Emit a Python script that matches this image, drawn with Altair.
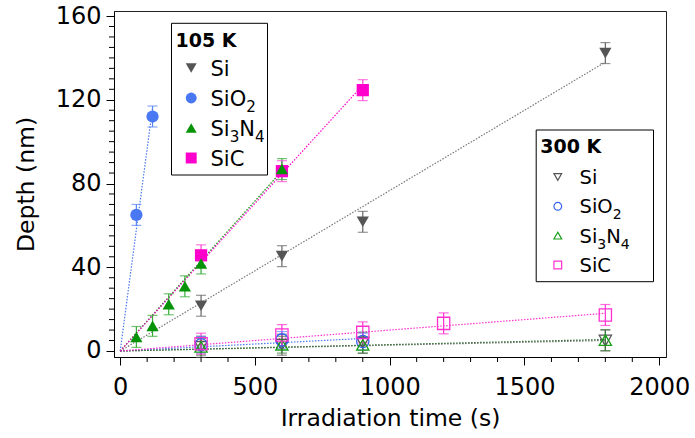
import altair as alt
import pandas as pd

FONT = "DejaVu Sans"

materials = ["Si", "SiO₂", "Si₃N₄", "SiC"]
shapes = ["triangle-down", "circle", "triangle-up", "square"]

# ---- 105 K: irradiation time (s), depth (nm), error (nm)
si_105_t = [300, 600, 900, 1800]
si_105_d = [21.6, 45.3, 61.7, 142.3]
si_105_e = [5, 5, 5, 5]

sio2_105_t = [60, 120]
sio2_105_d = [65, 112]
sio2_105_e = [5, 5]

si3n4_105_t = [60, 120, 180, 240, 300, 600]
si3n4_105_d = [6.7, 12, 22.3, 30.9, 41.8, 86.9]
si3n4_105_e = [5, 5, 5, 5, 5, 5]

sic_105_t = [300, 600, 900]
sic_105_d = [45.7, 85.9, 124.6]
sic_105_e = [5, 5, 5]

# ---- 300 K
si_300_t = [300, 600, 900, 1800]
si_300_d = [2, 3, 4, 5]
si_300_e = [5, 5, 5, 5]

sio2_300_t = [300, 600, 900]
sio2_300_d = [3, 5.3, 4.5]
sio2_300_e = [4, 4, 4]

si3n4_300_t = [300, 600, 900, 1800]
si3n4_300_d = [2, 3, 2.9, 5.2]
si3n4_300_e = [4, 4, 4, 5]

sic_300_t = [300, 600, 900, 1200, 1800]
sic_300_d = [3.5, 7.6, 8.9, 13.2, 17.2]
sic_300_e = [5, 5, 5, 5, 5]

# ---- linear fits through the origin: end point (time, depth)
fit_105_t = [1800, 120, 600, 900]
fit_105_d = [138, 116, 86, 127]
fit_300_t = [1800, 900, 1800, 1800]
fit_300_d = [5, 6, 5.5, 18]

x_ticks = [0, 500, 1000, 1500, 2000]
y_ticks = [0, 40, 80, 120, 160]

# legend labels split into normal text and subscript pieces
label_pieces = {
    "Si": [("Si", False)],
    "SiO₂": [("SiO", False), ("2", True)],
    "Si₃N₄": [("Si", False), ("3", True), ("N", False), ("4", True)],
    "SiC": [("SiC", False)],
}
# DejaVu Sans advance widths (em) for the glyphs used in the labels
ADV = {"S": 0.635, "i": 0.278, "O": 0.787, "N": 0.748, "C": 0.698,
       "2": 0.636, "3": 0.636, "4": 0.636}
SUB_SCALE = 0.72

# ---- styles
marker_col = {
    "105 K": {"Si": "#555555", "SiO₂": "#4a78f2", "Si₃N₄": "#079307", "SiC": "#ff00cc"},
    "300 K": {"Si": "#555555", "SiO₂": "#3563f0", "Si₃N₄": "#17a017", "SiC": "#ff30d0"},
}
err_col = {
    "105 K": {"Si": "#666666", "SiO₂": "#5a86f4", "Si₃N₄": "#35ad35", "SiC": "#ff40d4"},
    "300 K": {"Si": "#666666", "SiO₂": "#5a86f4", "Si₃N₄": "#3a7a3a", "SiC": "#ff30d0"},
}
line_col = {
    "105 K": {"Si": "#777777", "SiO₂": "#4a78f2", "Si₃N₄": "#079307", "SiC": "#ff00cc"},
    "300 K": {"Si": "#777777", "SiO₂": "#4a78f2", "Si₃N₄": "#2d6b2d", "SiC": "#ff30d0"},
}

series = [
    ("105 K", "Si", si_105_t, si_105_d, si_105_e),
    ("105 K", "SiO₂", sio2_105_t, sio2_105_d, sio2_105_e),
    ("105 K", "SiC", sic_105_t, sic_105_d, sic_105_e),
    ("105 K", "Si₃N₄", si3n4_105_t, si3n4_105_d, si3n4_105_e),
    ("300 K", "Si", si_300_t, si_300_d, si_300_e),
    ("300 K", "SiO₂", sio2_300_t, sio2_300_d, sio2_300_e),
    ("300 K", "Si₃N₄", si3n4_300_t, si3n4_300_d, si3n4_300_e),
    ("300 K", "SiC", sic_300_t, sic_300_d, sic_300_e),
]

rows = []
for temp, mat, ts, ds, es in series:
    for t, d, e in zip(ts, ds, es):
        rows.append(dict(temp=temp, material=mat, t=t, d=d, lo=d - e, hi=d + e,
                         mcol=marker_col[temp][mat], ecol=err_col[temp][mat]))
pts = pd.DataFrame(rows)

fit_rows = []
for temp, ts, ds in [("300 K", fit_300_t, fit_300_d), ("105 K", fit_105_t, fit_105_d)]:
    for mat, te, de in zip(materials, ts, ds):
        key = temp + mat
        fit_rows.append(dict(series=key, t=0, d=0, lcol=line_col[temp][mat]))
        fit_rows.append(dict(series=key, t=te, d=de, lcol=line_col[temp][mat]))
fits = pd.DataFrame(fit_rows)

x_minor = pd.DataFrame({"v": [v for v in range(0, 2001, 100) if v % 500]})
y_minor = pd.DataFrame({"v": [v for v in range(0, 161, 5) if v % 40]})

W, H = 552, 346

x_scale = alt.Scale(domain=[-23, 2025], nice=False, zero=False)
y_scale = alt.Scale(domain=[-2.87, 162.4], nice=False, zero=False)
shape_scale = alt.Scale(domain=materials, range=shapes)

x_axis = alt.Axis(values=x_ticks, title="Irradiation time (s)", grid=False,
                  tickSize=8, labelPadding=10, titlePadding=7, format="d",
                  labelFontSize=24, titleFontSize=23.5)
y_axis = alt.Axis(values=y_ticks, title="Depth (nm)", grid=False,
                  tickSize=8, labelPadding=5, titlePadding=17,
                  labelFontSize=24, titleFontSize=23.5)

X = alt.X("t:Q", scale=x_scale, axis=x_axis)
Y = alt.Y("d:Q", scale=y_scale, axis=y_axis)

lines = alt.Chart(fits).mark_line(strokeDash=[1.5, 1.5], strokeWidth=1.2).encode(
    x=X, y=Y, detail="series:N", color=alt.Color("lcol:N", scale=None)
)

err_rule = alt.Chart(pts).mark_rule(strokeWidth=1.2).encode(
    x="t:Q", y="lo:Q", y2="hi:Q", color=alt.Color("ecol:N", scale=None)
)
cap_lo = alt.Chart(pts).mark_tick(orient="horizontal", size=10, thickness=1.2).encode(
    x="t:Q", y="lo:Q", color=alt.Color("ecol:N", scale=None)
)
cap_hi = alt.Chart(pts).mark_tick(orient="horizontal", size=10, thickness=1.2).encode(
    x="t:Q", y="hi:Q", color=alt.Color("ecol:N", scale=None)
)

open_pts = alt.Chart(pts).transform_filter(alt.datum.temp == "300 K").mark_point(
    filled=False, size=150, strokeWidth=1.3, opacity=1
).encode(
    x="t:Q", y="d:Q",
    shape=alt.Shape("material:N", scale=shape_scale, legend=None),
    color=alt.Color("mcol:N", scale=None),
)
filled_pts = alt.Chart(pts).transform_filter(alt.datum.temp == "105 K").mark_point(
    filled=True, size=150, opacity=1
).encode(
    x="t:Q", y="d:Q",
    shape=alt.Shape("material:N", scale=shape_scale, legend=None),
    fill=alt.Color("mcol:N", scale=None),
)

minor_x = alt.Chart(x_minor).mark_rule(color="black", strokeWidth=1).encode(
    x="v:Q", y=alt.value(H), y2=alt.value(H + 5)
)
minor_y = alt.Chart(y_minor).mark_rule(color="black", strokeWidth=1).encode(
    y="v:Q", x=alt.value(0), x2=alt.value(-5)
)

main = alt.layer(lines, err_rule, cap_lo, cap_hi, open_pts, filled_pts, minor_x, minor_y)


def label_table(lab_x, size):
    """Place each text piece of the legend labels side by side."""
    out = []
    for i, mat in enumerate(materials):
        x = lab_x
        for txt, sub in label_pieces[mat]:
            fs = size * SUB_SCALE if sub else size
            out.append(dict(row=i, piece=txt, sub=sub, px=x))
            x += sum(ADV[c] for c in txt) * fs
    return pd.DataFrame(out)


def legend_box(temp, box, title_xy, sym_x, lab_x, row_range, filled, sym_size, lab_size):
    head = pd.DataFrame({"title": [temp]})
    entries = pd.DataFrame({
        "material": materials,
        "row": list(range(len(materials))),
        "mcol": [marker_col[temp][m] for m in materials],
    })
    pieces = label_table(lab_x, lab_size)
    row_y = alt.Y("row:Q", scale=alt.Scale(domain=[0, len(materials) - 1], range=row_range), axis=None)
    frame = alt.Chart(head).mark_rect(fill="white", stroke="black", strokeWidth=1).encode(
        x=alt.value(box[0]), x2=alt.value(box[1]), y=alt.value(box[2]), y2=alt.value(box[3])
    )
    title = alt.Chart(head).mark_text(
        font=FONT, fontSize=19, fontWeight="bold", align="left", baseline="alphabetic", color="black"
    ).encode(x=alt.value(title_xy[0]), y=alt.value(title_xy[1]), text="title:N")
    if filled:
        sym = alt.Chart(entries).mark_point(filled=True, size=sym_size, opacity=1).encode(
            x=alt.value(sym_x), y=row_y,
            shape=alt.Shape("material:N", scale=shape_scale, legend=None),
            fill=alt.Color("mcol:N", scale=None),
        )
    else:
        sym = alt.Chart(entries).mark_point(filled=False, size=sym_size, strokeWidth=1.2, opacity=1).encode(
            x=alt.value(sym_x), y=row_y,
            shape=alt.Shape("material:N", scale=shape_scale, legend=None),
            color=alt.Color("mcol:N", scale=None),
        )
    base_dy = 0.36 * lab_size
    normal = alt.Chart(pieces).transform_filter(alt.datum.sub == False).mark_text(
        font=FONT, fontSize=lab_size, align="left", baseline="alphabetic", color="black", dy=base_dy
    ).encode(x=alt.X("px:Q", scale=None), y=row_y, text="piece:N")
    subs = alt.Chart(pieces).transform_filter(alt.datum.sub == True).mark_text(
        font=FONT, fontSize=lab_size * SUB_SCALE, align="left", baseline="alphabetic", color="black",
        dy=base_dy + 0.3 * lab_size
    ).encode(x=alt.X("px:Q", scale=None), y=row_y, text="piece:N")
    return alt.layer(frame, title, sym, normal, subs)


leg105 = legend_box("105 K", (57.5, 153.5, 12.3, 164), (61.5, 35.7), 77.2, 96.5,
                    [57, 147], True, 120, 21)
leg300 = legend_box("300 K", (422.2, 539.5, 119, 270.7), (426.2, 142.3), 443.8, 465.5,
                    [166, 254], False, 60, 19.5)

chart = alt.layer(main, leg105, leg300).resolve_scale(y="independent").properties(
    width=W, height=H,
    padding={"left": 114, "top": 11, "right": 29, "bottom": 81},
    autosize=alt.AutoSizeParams(type="none"),
    background="white",
).configure_view(
    stroke="#222222", strokeWidth=1
).configure_axis(
    labelFont=FONT, titleFont=FONT, labelColor="black", titleColor="black",
    domainColor="black", tickColor="black", titleFontWeight="normal",
)

chart.save("out.html", embed_options={"renderer": "svg", "actions": False})
